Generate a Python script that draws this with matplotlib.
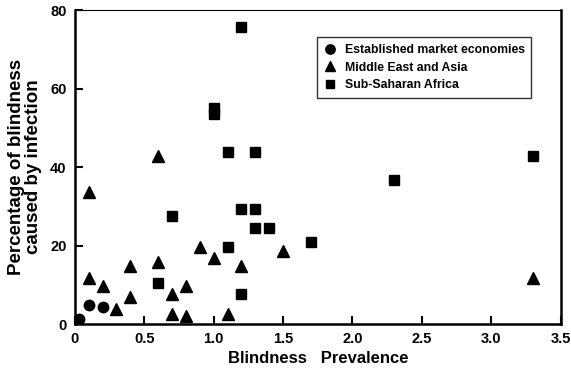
import matplotlib
matplotlib.use("Agg")
import matplotlib.pyplot as plt

plt.rcParams['font.family'] = ['Liberation Sans', 'DejaVu Sans']
plt.rcParams['font.weight'] = 'bold'

# values
emx = [0.03, 0.1, 0.2]
emy = [1.4, 4.8, 4.3]

meax = [0.1, 0.1, 0.2, 0.3, 0.4, 0.4, 0.6, 0.6, 0.7, 0.7, 0.8, 0.8,
        0.9, 1.0, 1.1, 1.2, 1.5, 3.3]
meay = [33.7, 11.8, 9.8, 3.8, 14.7, 6.8, 15.8, 42.8, 7.8, 2.7, 9.8, 2.0,
        19.7, 16.8, 2.7, 14.7, 18.7, 11.8]

ssax = [0.6, 0.7, 1.0, 1.0, 1.1, 1.1, 1.2, 1.2, 1.2, 1.3, 1.3, 1.3,
        1.4, 1.7, 2.3, 3.3]
ssay = [10.5, 27.6, 55.0, 53.6, 43.8, 19.7, 75.6, 29.4, 7.7, 43.8, 29.4, 24.6,
        24.6, 20.8, 36.7, 42.8]

xticks = [0, 0.5, 1.0, 1.5, 2.0, 2.5, 3.0, 3.5]
xticklabels = ["0", "0.5", "1.0", "1.5", "2.0", "2.5", "3.0", "3.5"]
yticks = [0, 20, 40, 60, 80]

fig = plt.figure(figsize=(5.71, 3.76), dpi=100)
ax = fig.add_axes([0.131, 0.138, 0.851, 0.835])

ax.plot(emx, emy, 'o', color='black', markersize=7.5, linestyle='none',
        label='Established market economies')
ax.plot(meax, meay, '^', color='black', markersize=8, linestyle='none',
        label='Middle East and Asia')
ax.plot(ssax, ssay, 's', color='black', markersize=7, linestyle='none',
        label='Sub-Saharan Africa')

ax.set_xlim(0, 3.5)
ax.set_ylim(0, 80)
ax.set_xticks(xticks)
ax.set_xticklabels(xticklabels)
ax.set_yticks(yticks)
ax.tick_params(direction='in', length=6, width=1.5, labelsize=10.5,
               top=False, right=False, pad=6)
for s in ['left', 'bottom', 'right']:
    ax.spines[s].set_linewidth(1.8)
ax.spines['top'].set_linewidth(0.8)

ax.set_xlabel("Blindness   Prevalence", fontsize=12, fontweight='bold', labelpad=3)
ax.set_ylabel("Percentage of blindness\ncaused by infection", fontsize=13.5,
              fontweight='bold', labelpad=6, linespacing=0.95)

leg = ax.legend(loc='upper right', bbox_to_anchor=(0.952, 0.933), fontsize=8.8,
                frameon=True, fancybox=False, edgecolor='black',
                handletextpad=0.7, borderpad=0.55, labelspacing=0.45,
                handlelength=1.0, markerscale=0.9)
leg.get_frame().set_linewidth(1.0)

fig.savefig("out.png", dpi=100)
